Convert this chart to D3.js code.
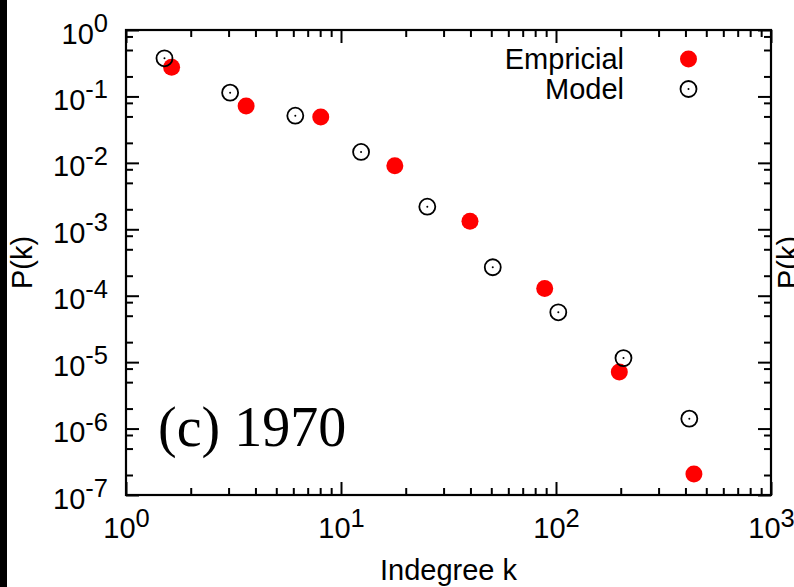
<!DOCTYPE html>
<html>
<head>
<meta charset="utf-8">
<script src="https://cdn.jsdelivr.net/npm/d3@7"></script>
<style>
  html, body { margin: 0; padding: 0; background: #fff; }
  svg { display: block; font-family: "Liberation Sans", Arial, sans-serif; }
  .c-axis text { font-size: 29px; fill: #000; }
  .c-axis line { stroke: #000; stroke-width: 2; }
  .c-axis path { display: none; }
</style>
</head>
<body>
<div id="chart"></div>
<script>
// values
const seriesNames = ['Empricial', 'Model'];
const empiricalK = [1.63, 3.62, 8.05, 17.8, 39.8, 88.6, 197, 438];
const empiricalP = [0.274, 0.0718, 0.049, 9.06e-3, 1.32e-3, 1.28e-4, 7.1e-6, 2.07e-7];
const modelK = [1.51, 3.05, 6.13, 12.4, 25.2, 50.8, 102.5, 206, 417];
const modelP = [0.375, 0.114, 0.0513, 0.0146, 2.19e-3, 2.68e-4, 5.63e-5, 1.15e-5, 1.41e-6];
const xExponents = [0, 1, 2, 3];
const yExponents = [0, -1, -2, -3, -4, -5, -6, -7];
const xMinorMantissa = [2, 3, 4, 5, 6, 7, 8, 9];
const yMinorMantissa = [2, 5, 8];
const panelLabel = '(c) 1970';
const xLabel = 'Indegree k';
const yLabel = 'P(k)';

class DegreeChart {
  constructor(aims) {
    this.chartContainer = d3.select(aims);
    this.chart = null;
    this.chartWidth = 794;
    this.chartHeight = 587;
    this.left = 126;
    this.right = 771;
    this.top = 30;
    this.bottom = 495;
    this.xScale = null;
    this.yScale = null;
  }

  render() {
    this.createSvg();
    this.initScales();
    this.drawAxes();
    this.drawPoints();
    this.drawLegend();
    this.drawTexts();
  }

  createSvg() {
    this.chart = this.chartContainer
      .append('svg')
      .attr('width', this.chartWidth)
      .attr('height', this.chartHeight);

    // black strip on the left edge
    this.chart.append('rect')
      .attr('x', 0).attr('y', 0)
      .attr('width', 7).attr('height', this.chartHeight)
      .attr('fill', '#000');
  }

  initScales() {
    this.xScale = d3.scaleLog().domain([1, 1000]).range([this.left, this.right]);
    this.yScale = d3.scaleLog().domain([1e-7, 1]).range([this.bottom, this.top]);
  }

  // "10" with a raised exponent
  powerLabel(sel, e) {
    sel.text('');
    sel.append('tspan').text('10');
    sel.append('tspan')
      .attr('dy', '-0.45em')
      .attr('font-size', '0.88em')
      .text(e);
  }

  drawAxes() {
    let xMajor = xExponents.map((e) => Math.pow(10, e));
    let yMajor = yExponents.map((e) => Math.pow(10, e));
    let xMinor = [];
    xExponents.slice(0, -1).forEach((e) => {
      xMinorMantissa.forEach((m) => xMinor.push(m * Math.pow(10, e)));
    });
    let yMinor = [];
    yExponents.slice(1).forEach((e) => {
      yMinorMantissa.forEach((m) => yMinor.push(m * Math.pow(10, e)));
    });

    const major = 13, minor = 7;

    // bottom
    let gb = this.chart.append('g')
      .attr('class', 'c-axis')
      .attr('transform', 'translate(0,' + this.bottom + ')');
    gb.call(d3.axisBottom(this.xScale).tickValues(xMajor).tickSizeInner(-major).tickSizeOuter(0).tickPadding(0));
    gb.selectAll('.tick text')
      .attr('y', 43).attr('dy', null)
      .each((d, i, n) => this.powerLabel(d3.select(n[i]), Math.round(Math.log10(d))));
    gb.append('g').call(d3.axisBottom(this.xScale).tickValues(xMinor).tickSizeInner(-minor).tickSizeOuter(0).tickFormat(''));

    // top
    let gt = this.chart.append('g')
      .attr('class', 'c-axis')
      .attr('transform', 'translate(0,' + this.top + ')');
    gt.call(d3.axisTop(this.xScale).tickValues(xMajor).tickSizeInner(-major).tickSizeOuter(0).tickFormat(''));
    gt.append('g').call(d3.axisTop(this.xScale).tickValues(xMinor).tickSizeInner(-minor).tickSizeOuter(0).tickFormat(''));

    // left
    let gl = this.chart.append('g')
      .attr('class', 'c-axis')
      .attr('transform', 'translate(' + this.left + ',0)');
    gl.call(d3.axisLeft(this.yScale).tickValues(yMajor).tickSizeInner(-major).tickSizeOuter(0));
    gl.selectAll('.tick text')
      .attr('x', -18).attr('dy', null).attr('y', 13)
      .each((d, i, n) => this.powerLabel(d3.select(n[i]), Math.round(Math.log10(d))));
    gl.append('g').call(d3.axisLeft(this.yScale).tickValues(yMinor).tickSizeInner(-minor).tickSizeOuter(0).tickFormat(''));

    // right
    let gr = this.chart.append('g')
      .attr('class', 'c-axis')
      .attr('transform', 'translate(' + this.right + ',0)');
    gr.call(d3.axisRight(this.yScale).tickValues(yMajor).tickSizeInner(-major).tickSizeOuter(0).tickFormat(''));
    gr.append('g').call(d3.axisRight(this.yScale).tickValues(yMinor).tickSizeInner(-minor).tickSizeOuter(0).tickFormat(''));

    // frame
    this.chart.append('rect')
      .attr('x', this.left).attr('y', this.top)
      .attr('width', this.right - this.left)
      .attr('height', this.bottom - this.top)
      .attr('fill', 'none')
      .attr('stroke', '#000')
      .attr('stroke-width', 2.2);
  }

  drawPoints() {
    let empirical = empiricalK.map((k, i) => ({k: k, p: empiricalP[i]}));
    let model = modelK.map((k, i) => ({k: k, p: modelP[i]}));

    this.chart.append('g')
      .attr('class', 'c-empirical')
      .selectAll('circle')
      .data(empirical)
      .enter()
      .append('circle')
      .attr('cx', (d) => this.xScale(d.k))
      .attr('cy', (d) => this.yScale(d.p))
      .attr('r', 8.5)
      .attr('fill', '#ff0000');

    let m = this.chart.append('g')
      .attr('class', 'c-model')
      .selectAll('g')
      .data(model)
      .enter()
      .append('g')
      .attr('transform', (d) => 'translate(' + this.xScale(d.k) + ',' + this.yScale(d.p) + ')');
    m.append('circle').attr('r', 8).attr('fill', 'none').attr('stroke', '#000').attr('stroke-width', 1.8);
    m.append('circle').attr('r', 1).attr('fill', '#000');
  }

  drawLegend() {
    let lg = this.chart.append('g')
      .attr('class', 'c-legend')
      .selectAll('g')
      .data(seriesNames)
      .enter()
      .append('g')
      .attr('transform', (d, i) => 'translate(0,' + (59 + i * 30) + ')');

    lg.append('text')
      .attr('x', 624)
      .attr('y', 10)
      .attr('text-anchor', 'end')
      .attr('font-size', '29px')
      .text((d) => d);

    lg.filter((d, i) => i === 0).append('circle')
      .attr('cx', 688.5).attr('r', 8.5).attr('fill', '#ff0000');
    let ms = lg.filter((d, i) => i === 1);
    ms.append('circle').attr('cx', 688.5).attr('r', 8)
      .attr('fill', 'none').attr('stroke', '#000').attr('stroke-width', 1.8);
    ms.append('circle').attr('cx', 688.5).attr('r', 1).attr('fill', '#000');
  }

  drawTexts() {
    this.chart.append('text')
      .attr('x', (this.left + this.right) / 2)
      .attr('y', 580)
      .attr('text-anchor', 'middle')
      .attr('font-size', '29px')
      .text(xLabel);

    this.chart.append('text')
      .attr('transform', 'translate(32,' + ((this.top + this.bottom) / 2) + ') rotate(-90)')
      .attr('text-anchor', 'middle')
      .attr('font-size', '29px')
      .text(yLabel);

    // label of the neighbouring panel, cut by the edge
    this.chart.append('text')
      .attr('transform', 'translate(798,' + ((this.top + this.bottom) / 2) + ') rotate(-90)')
      .attr('text-anchor', 'middle')
      .attr('font-size', '29px')
      .text(yLabel);

    this.chart.append('text')
      .attr('x', 158)
      .attr('y', 446)
      .attr('font-family', '"Liberation Serif", "Times New Roman", serif')
      .attr('font-size', '56px')
      .text(panelLabel);
  }
}

new DegreeChart('#chart').render();
</script>
</body>
</html>
